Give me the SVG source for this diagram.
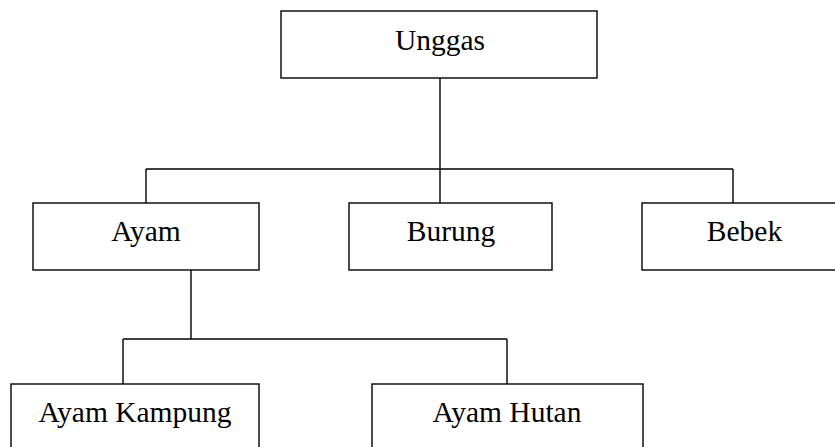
<svg xmlns="http://www.w3.org/2000/svg" width="835" height="447" viewBox="0 0 835 447">
<style>
.box{fill:#fff;stroke:#000;stroke-width:1.4}
.lbl{font-family:"Liberation Serif","Times New Roman",serif;font-size:29.5px;fill:#000;text-anchor:middle}
.con{fill:none;stroke:#000;stroke-width:1.4}
</style>
<rect width="835" height="447" fill="#fff"/>
<g id="connectors">
<path class="con" d="M440 78 V169 M146 169 H733 M146 169 V203 M440 169 V203 M733 169 V203"/>
<path class="con" d="M191 270 V339 M123 339 H507 M123 339 V384 M507 339 V384"/>
</g>
<g id="unggas"><rect class="box" x="281" y="11" width="316" height="67"/><text class="lbl" x="440" y="50">Unggas</text></g>
<g id="ayam"><rect class="box" x="33" y="203" width="226" height="67"/><text class="lbl" x="146" y="241">Ayam</text></g>
<g id="burung"><rect class="box" x="349" y="203" width="203" height="67"/><text class="lbl" x="451" y="241">Burung</text></g>
<g id="bebek"><rect class="box" x="642" y="203" width="205" height="67"/><text class="lbl" x="744.5" y="241">Bebek</text></g>
<g id="ayam-kampung"><rect class="box" x="11" y="384" width="248" height="80"/><text class="lbl" x="135" y="422">Ayam Kampung</text></g>
<g id="ayam-hutan"><rect class="box" x="372" y="384" width="271" height="80"/><text class="lbl" x="507" y="422">Ayam Hutan</text></g>
</svg>
